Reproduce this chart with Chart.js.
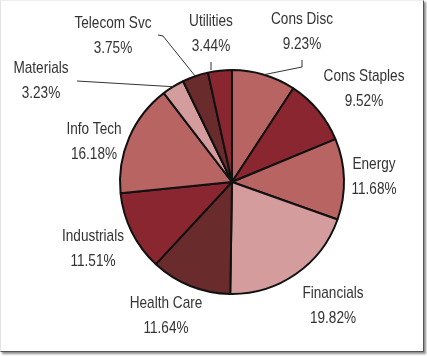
<!DOCTYPE html>
<html>
<head>
<meta charset="utf-8">
<script src="https://cdn.jsdelivr.net/npm/chart.js@4"></script>
<style>
  html, body { margin: 0; padding: 0; background: #fff; }
  body { width: 427px; height: 356px; position: relative; overflow: hidden; }
  #frame { position: absolute; left: 0; top: 0; width: 422px; height: 350px;
           border-left: 1px solid #e4e4e4; border-top: 1px solid #eeeeee;
           border-right: 1px solid #555; border-bottom: 1px solid #555;
           box-shadow: 2px 2px 2px rgba(0,0,0,0.45); background: #fff; }
  #wrap { position: absolute; left: 0; top: 0; width: 427px; height: 356px; }
</style>
</head>
<body>
<div id="frame"></div>
<div id="wrap"><canvas id="c" width="427" height="356"></canvas></div>
<script>
const sectors = ["Cons Disc", "Cons Staples", "Energy", "Financials", "Health Care",
                 "Industrials", "Info Tech", "Materials", "Telecom Svc", "Utilities"];
const weights = [9.23, 9.52, 11.68, 19.82, 11.64, 11.51, 16.18, 3.23, 3.75, 3.44];
const valueLabels = ["9.23%", "9.52%", "11.68%", "19.82%", "11.64%", "11.51%", "16.18%", "3.23%", "3.75%", "3.44%"];

const ROSE = "#b76463", DARK = "#8a2630", PINK = "#d49c9c", BROWN = "#6a2b2d";
const sliceColors = [ROSE, DARK, ROSE, PINK, BROWN, DARK, ROSE, PINK, BROWN, DARK];

// label centres, relative to the pie centre
const labelOffsets = [
  [70, -163], [132, -106], [142, -18], [101, 111], [-66, 121],
  [-139, 54], [-138, -53], [-191, -114], [-119, -159], [-21, -161]
];
// leader lines: start at slice mid-angle on outer edge (fromArc), then points relative to centre
const leaders = {
  0: { fromArc: true, pts: [[70, -115], [70, -122]] },
  7: { fromArc: true, pts: [[-155, -101]] },
  8: { fromArc: true, pts: [[-69, -146], [-74, -147]] },
  9: { fromArc: false, pts: [[-21, -112], [-21, -120]] }
};

const FONT = "17px 'Liberation Sans', Arial, sans-serif";
const SQUEEZE = 0.8;

const labelPlugin = {
  id: "sectorLabels",
  afterDraw(chart) {
    const ctx = chart.ctx;
    const arcs = chart.getDatasetMeta(0).data;
    ctx.save();
    ctx.strokeStyle = "#333";
    ctx.lineWidth = 1;
    Object.keys(leaders).forEach(k => {
      const a = arcs[k];
      const L = leaders[k];
      const cx = a.x, cy = a.y;
      ctx.beginPath();
      let first = true;
      if (L.fromArc) {
        const mid = (a.startAngle + a.endAngle) / 2;
        ctx.moveTo(cx + Math.cos(mid) * a.outerRadius, cy + Math.sin(mid) * a.outerRadius);
        first = false;
      }
      L.pts.forEach(p => {
        if (first) { ctx.moveTo(cx + p[0], cy + p[1]); first = false; }
        else ctx.lineTo(cx + p[0], cy + p[1]);
      });
      ctx.stroke();
    });
    ctx.fillStyle = "#333";
    ctx.font = FONT;
    ctx.textAlign = "center";
    ctx.textBaseline = "middle";
    arcs.forEach((a, i) => {
      const o = labelOffsets[i];
      const tx = a.x + o[0], ty = a.y + o[1];
      ctx.save();
      ctx.translate(tx, ty);
      ctx.scale(SQUEEZE, 1);
      ctx.fillText(sectors[i], 0, 0);
      ctx.fillText(valueLabels[i], 0, 25);
      ctx.restore();
    });
    ctx.restore();
  }
};

new Chart(document.getElementById("c"), {
  type: "pie",
  data: {
    labels: sectors,
    datasets: [{
      data: weights,
      backgroundColor: sliceColors,
      borderColor: "#111",
      borderWidth: 2,
      borderAlign: "center",
      hoverOffset: 0
    }]
  },
  options: {
    responsive: false,
    animation: false,
    events: [],
    layout: { padding: { left: 119, right: 82, top: 69, bottom: 61 } },
    plugins: { legend: { display: false }, tooltip: { enabled: false } }
  },
  plugins: [labelPlugin]
});
</script>
</body>
</html>
